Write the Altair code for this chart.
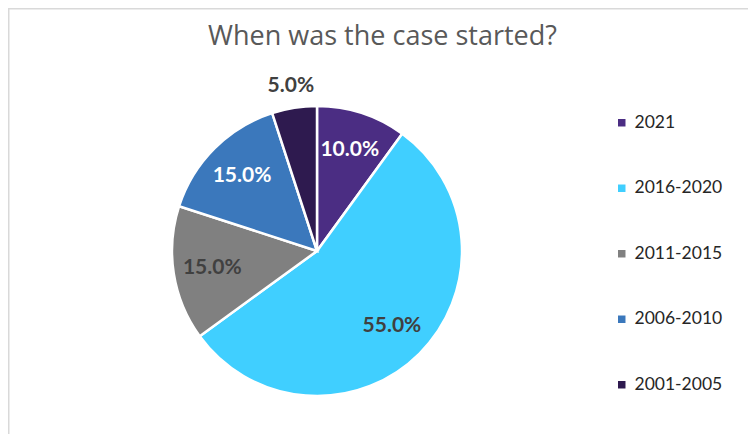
import altair as alt
import pandas as pd

# ---- data ----
categories = ["2021", "2016-2020", "2011-2015", "2006-2010", "2001-2005"]
shares = [0.10, 0.55, 0.15, 0.15, 0.05]
slice_colors = ["#4B2D83", "#40CFFF", "#808080", "#3B78BC", "#2E1A4F"]
title_text = "When was the case started?"

df = pd.DataFrame({
    "period": categories,
    "share": shares,
    "idx": list(range(len(categories))),
})

# ---- layout (plot area = whole 740x426 drawing area) ----
W, H = 740, 426
CX, CY = 309, 243
R = 145

base = alt.Chart(df).encode(
    theta=alt.Theta("share:Q", stack=True),
    order=alt.Order("idx:Q", sort="ascending"),
    x=alt.value(CX),
    y=alt.value(CY),
)

pie = base.mark_arc(radius=R, stroke="white", strokeWidth=2.5).encode(
    color=alt.Color(
        "period:N",
        scale=alt.Scale(domain=categories, range=slice_colors),
        sort=categories,
        legend=alt.Legend(
            title=None,
            orient="none",
            legendX=605,
            legendY=106,
            symbolType="square",
            symbolSize=56,
            symbolStrokeWidth=0,
            labelFont="Lato",
            labelFontSize=17.5,
            labelColor="#262626",
            labelOffset=4,
            rowPadding=46.5,
            padding=0,
        ),
    )
)

label_font = dict(font="Lato", fontWeight="bold", fontSize=21)

inside = base.mark_text(radius=106, **label_font).encode(
    text=alt.condition("datum.share >= 0.06", alt.Text("share:Q", format=".1%"), alt.value("")),
    color=alt.condition(
        "datum.period == '2021' || datum.period == '2006-2010'",
        alt.value("white"),
        alt.value("#404040"),
    ),
)

outside = base.mark_text(radius=167, **label_font).encode(
    text=alt.condition("datum.share < 0.06", alt.Text("share:Q", format=".1%"), alt.value("")),
    color=alt.value("#404040"),
)

frame_df = pd.DataFrame({"k": [0]})
top_border = alt.Chart(frame_df).mark_rule(color="#D9D9D9", strokeWidth=1.5).encode(
    x=alt.value(0), x2=alt.value(W), y=alt.value(0.75)
)
left_border = alt.Chart(frame_df).mark_rule(color="#D9D9D9", strokeWidth=1.5).encode(
    x=alt.value(0.75), y=alt.value(0), y2=alt.value(H)
)

title = alt.Chart(frame_df).mark_text(
    text=title_text,
    font="Open Sans",
    fontSize=27,
    color="#595959",
    align="center",
    baseline="alphabetic",
).encode(x=alt.value(374.5), y=alt.value(37))

chart = alt.layer(top_border, left_border, title, pie, inside, outside).properties(
    width=W,
    height=H,
    padding=0,
    autosize=alt.AutoSizeParams(type="none"),
).configure_view(stroke="transparent", strokeWidth=0).configure(background="white")

chart.save("out.html", embed_options={"renderer": "svg", "actions": False})
